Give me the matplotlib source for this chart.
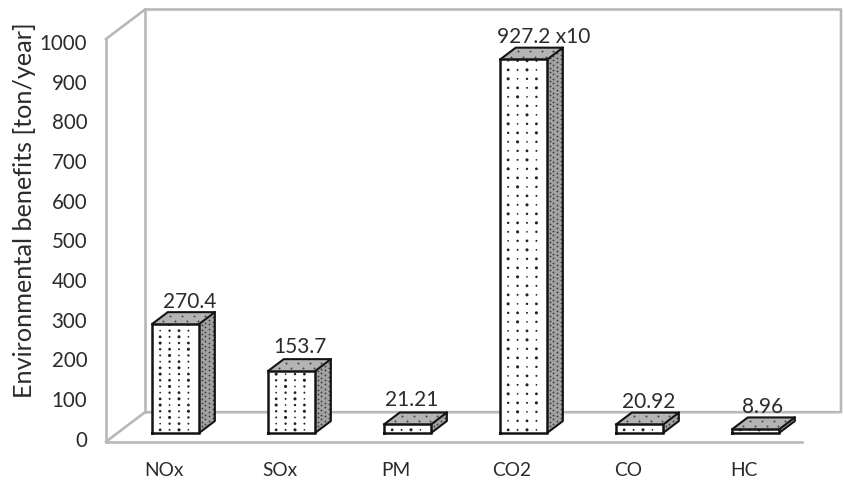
import numpy as np
import matplotlib
matplotlib.use("Agg")
import matplotlib.pyplot as plt
from matplotlib.patches import Polygon
from matplotlib.transforms import ScaledTranslation

categories = ["NOx", "SOx", "PM", "CO2", "CO", "HC"]
values = [270.4, 153.7, 21.21, 927.2, 20.92, 8.96]
value_labels = ["270.4", "153.7", "21.21", "927.2 x10", "20.92", "8.96"]
y_ticks = list(range(0, 1001, 100))
y_title = "Environmental benefits [ton/year]"

W, H = 845, 482
plt.rcParams["font.family"] = ["Lato", "DejaVu Sans"]
TEXT = "#2b2b2b"
WALL = "#b8b8b8"
EDGE = "#141414"

fig = plt.figure(figsize=(W / 100, H / 100), dpi=100)
ax = fig.add_axes([106 / W, 1 - 441.7 / H, 696 / W, 402.7 / H])
ax.set_xlim(-0.5, 5.5)
ax.set_ylim(0, 1000)
ax.patch.set_visible(False)
for s in ax.spines.values():
    s.set_visible(False)

# oblique depth of the 3D box, in data units
DX = 39 / 116
DY = 29.5 * 1000 / 402.7


def wall(xs, ys):
    ax.plot(xs, ys, color=WALL, lw=1.9, clip_on=False, zorder=1, solid_capstyle="projecting")


# side wall, back wall and floor
wall([-0.5, -0.5], [0, 1000])
wall([-0.5, -0.5 + DX, 5.5 + DX, 5.5 + DX, -0.5 + DX, -0.5], [1000, 1000 + DY, 1000 + DY, DY, DY, 0])
wall([-0.5 + DX, -0.5 + DX], [DY, 1000 + DY])
wall([-0.5, 5.5], [0, 0])

FRONT, BACK = 0.3, 0.7
HALF = 0.203
PX = 696 / 6            # pixels per category
PY = 402.7 / 1000       # pixels per value unit
DOT_SIZES = [4, 2, 5, 1.5, 3]
ROW_GAP = [6.2, 6.2, 6.2, 9, 6.2, 6.2]   # dot pitch on the front faces, pixels

for i, v in enumerate(values):
    x0 = i - HALF + FRONT * DX
    x1 = i + HALF + FRONT * DX
    y0 = FRONT * DY
    y1 = y0 + v
    ddx = (BACK - FRONT) * DX
    ddy = (BACK - FRONT) * DY
    z = 3 + i

    side = Polygon([(x1, y0), (x1 + ddx, y0 + ddy), (x1 + ddx, y1 + ddy), (x1, y1)],
                   closed=True, fc="#a2a2a2", ec="none", zorder=z, clip_on=False)
    top = Polygon([(x0, y1), (x1, y1), (x1 + ddx, y1 + ddy), (x0 + ddx, y1 + ddy)],
                  closed=True, fc="#b4b4b4", ec="none", zorder=z, clip_on=False)
    front = Polygon([(x0, y0), (x1, y0), (x1, y1), (x0, y1)],
                    closed=True, fc="white", ec="none", zorder=z, clip_on=False)
    for p in (side, top, front):
        ax.add_patch(p)

    # front face: dark dots in four columns
    fx = x0 + np.array([0.17, 0.37, 0.57, 0.77]) * (x1 - x0)
    fy = np.arange(y0 + 3 / PY, y1, ROW_GAP[i] / PY)
    gx, gy = np.meshgrid(fx, fy)
    sizes = [DOT_SIZES[(r * 3 + c) % len(DOT_SIZES)] for r, c in np.ndindex(gx.shape)]
    art = ax.scatter(gx.ravel(), gy.ravel(), s=sizes, c="#222222", linewidths=0, zorder=z + 0.1)
    art.set_clip_path(front)

    # side face: finer dots on the grey
    sx = x1 + np.array([0.15, 0.38, 0.62, 0.85]) * ddx
    sy = np.arange(y0, y1 + ddy, 4.6 / PY)
    gx, gy = np.meshgrid(sx, sy)
    gy = gy + (gx - x1) / ddx * ddy
    art = ax.scatter(gx.ravel(), gy.ravel(), s=1.6, c="#3a3a3a", linewidths=0, zorder=z + 0.1)
    art.set_clip_path(side)

    # top face: sparse specks
    tu = np.array([0.15, 0.4, 0.65, 0.9])
    tv = np.array([0.25, 0.7])
    tx = x0 + np.outer(tv, np.full(4, ddx)) + np.outer(np.ones(2), tu * (x1 - x0))
    ty = y1 + np.outer(tv, np.full(4, ddy))
    art = ax.scatter(tx.ravel(), ty.ravel(), s=2, c="#444444", linewidths=0, zorder=z + 0.1)
    art.set_clip_path(top)

    # outlines
    ax.plot([x0, x1, x1, x0, x0], [y0, y0, y1, y1, y0], color=EDGE, lw=1.8, zorder=z + 0.2,
            clip_on=False, solid_joinstyle="miter")
    ax.plot([x0, x0 + ddx, x1 + ddx, x1], [y1, y1 + ddy, y1 + ddy, y1], color=EDGE, lw=1.5,
            zorder=z + 0.2, clip_on=False)
    ax.plot([x1 + ddx, x1 + ddx, x1], [y1 + ddy, y0 + ddy, y0], color=EDGE, lw=1.5,
            zorder=z + 0.2, clip_on=False)

# hand placed value labels: offset from the bar's front-top centre, in pixels
nudges = [(14, 22), (8, 24), (4, 24), (20, 22), (9, 22), (7, 22)]
for i, (v, lab, (nx, ny)) in enumerate(zip(values, value_labels, nudges)):
    ax.text(i + FRONT * DX + nx / PX, FRONT * DY + v + ny / PY, lab, ha="center", va="center",
            fontsize=15, color=TEXT, zorder=20, clip_on=False)

ax.set_xticks(range(len(categories)))
ax.set_xticklabels(categories, fontsize=13.8, color=TEXT)
ax.set_yticks(y_ticks)
ax.set_yticklabels([str(t) for t in y_ticks], fontsize=14.8, color=TEXT)
ax.tick_params(axis="both", length=0)
ax.tick_params(axis="y", pad=13.5)
ax.tick_params(axis="x", pad=14.5)

# the tick labels run on a slightly tighter spacing than the front edge of the wall
for t, lbl in zip(y_ticks, ax.get_yticklabels()):
    lift = (3.0 - 0.0062 * t) / 100
    lbl.set_transform(lbl.get_transform() + ScaledTranslation(0, lift, fig.dpi_scale_trans))

fig.text(24.5 / W, 1 - 210 / H, y_title, rotation=90, ha="center", va="center",
         fontsize=18.2, color=TEXT)

fig.savefig("out.png", dpi=100, facecolor="white")
